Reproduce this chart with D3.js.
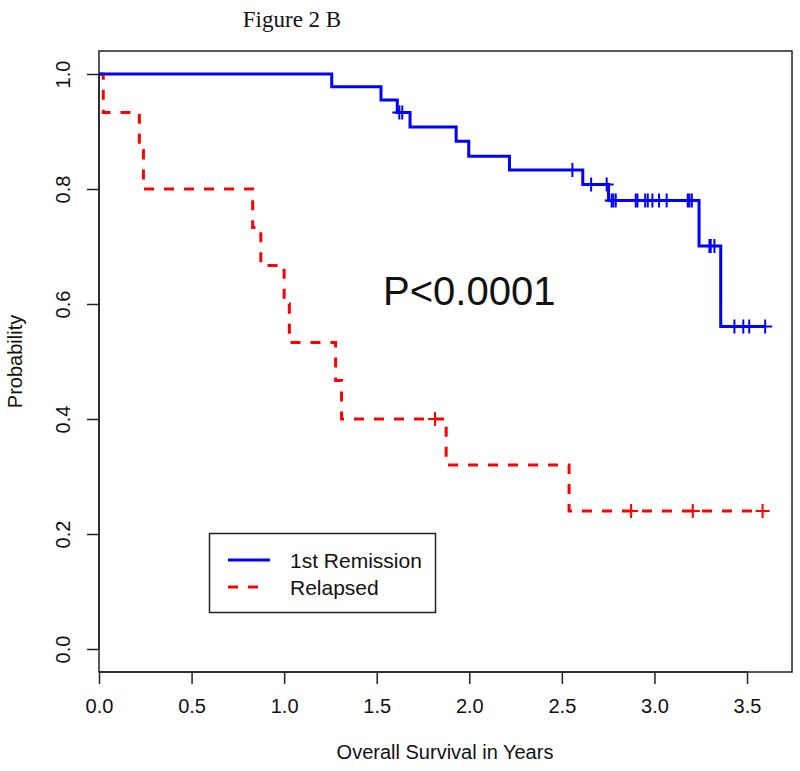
<!DOCTYPE html>
<html>
<head>
<meta charset="utf-8">
<script src="https://cdn.jsdelivr.net/npm/d3@7"></script>
<style>
  html, body { margin: 0; padding: 0; background: #fff; }
  svg { display: block; }
</style>
</head>
<body>
<svg id="chart" width="800" height="771"></svg>
<script>
// ---------------- data ----------------
const seriesNames = ["1st Remission", "Relapsed"];

// 1st Remission: event times (years) and survival after each step
const remTimes = [0, 1.257, 1.523, 1.611, 1.680, 1.929, 1.997, 2.217, 2.613, 2.752, 3.241, 3.358];
const remSurv  = [1.0, 0.978, 0.955, 0.933, 0.908, 0.883, 0.857, 0.833, 0.808, 0.780, 0.701, 0.561];
const remCensor = [1.622, 1.638, 2.557, 2.658, 2.742, 2.769, 2.778, 2.791, 2.899, 2.908, 2.950, 2.964,
                   2.989, 3.025, 3.066, 3.180, 3.189, 3.202, 3.297, 3.304, 3.324,
                   3.432, 3.480, 3.512, 3.598];
const remEnd = 3.598;

// Relapsed
const relTimes = [0, 0.023, 0.218, 0.240, 0.830, 0.874, 1.000, 1.028, 1.278, 1.310, 1.875, 2.539];
const relSurv  = [1.0, 0.933, 0.867, 0.800, 0.733, 0.667, 0.600, 0.533, 0.467, 0.400, 0.320, 0.240];
const relCensor = [1.815, 2.874, 3.207, 3.584];
const relEnd = 3.584;

const xTicks = [0, 0.5, 1.0, 1.5, 2.0, 2.5, 3.0, 3.5];
const yTicks = [0, 0.2, 0.4, 0.6, 0.8, 1.0];

const titleText = "Figure 2 B";
const xLabel = "Overall Survival in Years";
const yLabel = "Probability";
const pText = "P<0.0001";

// ---------------- drawing ----------------
const svg = d3.select("#chart");
const sans = "'Liberation Sans', Arial, Helvetica, sans-serif";
const serif = "'Liberation Serif', 'Times New Roman', serif";

const x = d3.scaleLinear().domain([0, 3.743]).range([99, 792]);
const y = d3.scaleLinear().domain([-0.04, 1.04]).range([672, 51]);

// box
svg.append("rect")
  .attr("x", x.range()[0]).attr("y", y.range()[1])
  .attr("width", x.range()[1] - x.range()[0])
  .attr("height", y.range()[0] - y.range()[1])
  .attr("fill", "none").attr("stroke", "#222").attr("stroke-width", 1.5);

// x axis
const xAxis = d3.axisBottom(x).tickValues(xTicks).tickFormat(d3.format(".1f"))
  .tickSize(12).tickSizeOuter(0);
const gx = svg.append("g").attr("transform", `translate(0,${y.range()[0]})`).call(xAxis);
gx.select(".domain").attr("d", `M${x(0)},0H${x(3.5)}`).attr("stroke", "#222").attr("stroke-width", 1.5);
gx.selectAll(".tick line").attr("stroke", "#222").attr("stroke-width", 1.5);
gx.selectAll(".tick text").attr("font-family", sans).attr("font-size", 20).attr("fill", "#111")
  .attr("dy", null).attr("y", 41);

// y axis
const yAxis = d3.axisLeft(y).tickValues(yTicks).tickFormat(d3.format(".1f"))
  .tickSize(12).tickSizeOuter(0);
const gy = svg.append("g").attr("transform", `translate(${x.range()[0]},0)`).call(yAxis);
gy.select(".domain").attr("d", `M0,${y(0)}V${y(1)}`).attr("stroke", "#222").attr("stroke-width", 1.5);
gy.selectAll(".tick line").attr("stroke", "#222").attr("stroke-width", 1.5);
gy.selectAll(".tick text")
  .attr("font-family", sans).attr("font-size", 20).attr("fill", "#111")
  .attr("x", null).attr("dy", null).attr("text-anchor", "middle")
  .attr("transform", "translate(-29,0) rotate(-90)");

// labels
svg.append("text").attr("x", 292).attr("y", 27).attr("text-anchor", "middle")
  .attr("font-family", serif).attr("font-size", 23).attr("fill", "#111").text(titleText);
svg.append("text").attr("x", 445).attr("y", 759).attr("text-anchor", "middle")
  .attr("font-family", sans).attr("font-size", 20).attr("fill", "#111").text(xLabel);
svg.append("text").attr("transform", `translate(22,${(y(0) + y(1)) / 2}) rotate(-90)`)
  .attr("text-anchor", "middle")
  .attr("font-family", sans).attr("font-size", 20).attr("fill", "#111").text(yLabel);

svg.append("text").attr("x", 383).attr("y", 305)
  .attr("font-family", sans).attr("font-size", 40).attr("fill", "#111").text(pText);

// KM curves
function stepPoints(times, surv, end) {
  const pts = times.map((t, i) => [t, surv[i]]);
  pts.push([end, surv[surv.length - 1]]);
  return pts;
}
function survAt(times, surv, t) {
  let s = surv[0];
  for (let i = 0; i < times.length; i++) if (times[i] <= t) s = surv[i];
  return s;
}
const line = d3.line().x(d => x(d[0])).y(d => y(d[1])).curve(d3.curveStepAfter);

const series = [
  { name: seriesNames[0], times: remTimes, surv: remSurv, censor: remCensor, end: remEnd,
    color: "#0000FF", dash: null },
  { name: seriesNames[1], times: relTimes, surv: relSurv, censor: relCensor, end: relEnd,
    color: "#FF0000", dash: "10,10" }
];

// draw red first so blue sits on top at shared start
[series[1], series[0]].forEach(s => {
  svg.append("path")
    .attr("d", line(stepPoints(s.times, s.surv, s.end)))
    .attr("fill", "none").attr("stroke", s.color).attr("stroke-width", 3)
    .attr("stroke-dasharray", s.dash);
  const g = svg.append("g");
  s.censor.forEach(t => {
    const cx = x(t), cy = y(survAt(s.times, s.surv, t));
    g.append("path")
      .attr("d", `M${cx - 7},${cy}H${cx + 7}M${cx},${cy - 7}V${cy + 7}`)
      .attr("stroke", s.color).attr("stroke-width", 2).attr("fill", "none");
  });
});

// legend
const lg = svg.append("g");
lg.append("rect").attr("x", 209.5).attr("y", 533.5).attr("width", 226).attr("height", 79)
  .attr("fill", "#fff").attr("stroke", "#222").attr("stroke-width", 1.5);
series.forEach((s, i) => {
  const ly = 560 + i * 27;
  lg.append("line").attr("x1", 228).attr("x2", i === 0 ? 270 : 260).attr("y1", ly).attr("y2", ly)
    .attr("stroke", s.color).attr("stroke-width", 3).attr("stroke-dasharray", s.dash);
  lg.append("text").attr("x", 290).attr("y", ly + 8)
    .attr("font-family", sans).attr("font-size", 21).attr("fill", "#111").text(s.name);
});
</script>
</body>
</html>
